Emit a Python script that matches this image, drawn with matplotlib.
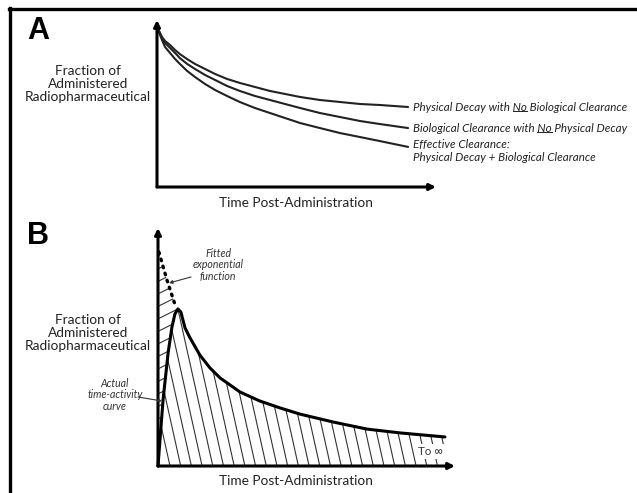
import matplotlib
matplotlib.use("Agg")
import matplotlib.pyplot as plt
import numpy as np
from matplotlib.lines import Line2D
from matplotlib.patches import Polygon, FancyArrowPatch
from matplotlib.collections import LineCollection
from matplotlib.transforms import IdentityTransform

plt.rcParams['font.family'] = ['Lato', 'DejaVu Sans']

W, H = 637, 493

# panel A: clearance curves, x = % of time axis, y = % of fraction axis
a_time = [0.4, 1.1, 1.8, 2.9, 4.7, 6.5, 8.2, 10.8, 13.6, 17.2, 20.8, 25.1, 29.7,
          35.1, 40.5, 45.9, 51.3, 58.4, 65.6, 72.8, 79.9, 90.0]
a_physical = [94.6, 92.2, 89.8, 87.4, 85.0, 82.0, 79.6, 76.6, 73.7, 70.7, 67.7, 64.7,
              62.3, 59.9, 57.5, 55.7, 53.9, 52.1, 50.9, 49.7, 49.1, 47.9]
a_biological = [94.6, 91.6, 89.2, 86.2, 83.2, 80.2, 77.2, 73.7, 70.7, 67.1, 64.1, 60.5,
                57.5, 54.5, 52.1, 49.7, 47.3, 44.3, 41.9, 39.5, 37.7, 35.3]
a_effective = [94.6, 91.0, 88.0, 83.8, 80.2, 76.6, 73.7, 69.5, 65.9, 61.7, 58.1, 54.5,
               50.9, 47.3, 44.3, 41.3, 38.3, 35.3, 32.3, 29.9, 27.5, 24.0]
a_labels = ["Physical Decay with No Biological Clearance",
            "Biological Clearance with No Physical Decay",
            "Effective Clearance:\nPhysical Decay + Biological Clearance"]

# panel B: measured time-activity curve and fitted exponential
b_time = [0, 1.7, 3.4, 4.7, 5.7, 6.7, 7.7, 9.1, 10.8, 14.1, 17.5, 20.9, 27.6,
          34.3, 41.1, 47.8, 58.9, 70.4, 81.5, 96.6]
b_activity = [0, 27.7, 47.5, 58.4, 63.9, 66.0, 64.7, 58.0, 53.8, 46.6, 41.2, 37.0,
              31.1, 27.3, 24.4, 21.8, 18.5, 15.5, 13.9, 12.2]
peak_idx = 5
fit_time = [0.3, 3.0, 6.1]
fit_activity = [89.9, 78.2, 66.4]

ylab = "Fraction of\nAdministered\nRadiopharmaceutical"
xlab = "Time Post-Administration"


def px_axes(fig, x0, y0, x1, y1):
    # axes box from pixel corners: (x0, y0) origin, (x1, y1) far ends of the arrows
    ax = fig.add_axes([x0 / W, 1 - y0 / H, (x1 - x0) / W, (y0 - y1) / H])
    ax.set_xlim(0, 100)
    ax.set_ylim(0, 100)
    ax.axis('off')
    return ax


def axis_arrows(ax):
    kw = dict(arrowstyle='-|>', lw=2.2, color='black', mutation_scale=9,
              shrinkA=0, shrinkB=0)
    ax.annotate('', xy=(100, 0), xytext=(0, 0), arrowprops=kw, annotation_clip=False)
    ax.annotate('', xy=(0, 100), xytext=(0, 0), arrowprops=kw, annotation_clip=False)


def hatch(ax, xs, ys, slope_px, step_px, color='#333333', lw=0.8):
    patch = Polygon(np.column_stack([xs, ys]), closed=True, fill=False, lw=0)
    ax.add_patch(patch)
    sx = ax.bbox.width / 100
    sy = ax.bbox.height / 100
    segs = []
    if abs(slope_px) > 1:
        dx = 100 * sy / slope_px / sx
        for x0 in np.arange(-50, 160, step_px / sx):
            segs.append([(x0, 0), (x0 + dx, 100)])
    else:
        dy = 100 * sx * slope_px / sy
        for y0 in np.arange(-80, 120, step_px / sy):
            segs.append([(0, y0), (100, y0 + dy)])
    lc = LineCollection(segs, colors=color, linewidths=lw)
    ax.add_collection(lc)
    lc.set_clip_path(patch)


fig = plt.figure(figsize=(W / 100, H / 100), dpi=100)

# outer frame (only top and left edges are in the picture)
fig.add_artist(Line2D([9 / W, 1], [1 - 8.5 / H, 1 - 8.5 / H], color='black', lw=2.4))
fig.add_artist(Line2D([10 / W, 10 / W], [0, 1 - 8 / H], color='black', lw=2.4))

# ---- panel A ----
axA = px_axes(fig, 157, 187, 436, 20)
axis_arrows(axA)
label_txt = []
for ys, lab in zip([a_physical, a_biological, a_effective], a_labels):
    axA.plot(a_time, ys, color='#222222', lw=1.5, solid_capstyle='round',
             solid_joinstyle='round')
    if '\n' in lab:
        t = axA.annotate(lab, xy=(a_time[-1], ys[-1]), xytext=(3.5, 5.5), textcoords='offset points',
                         fontsize=8.4, style='italic', va='top', ha='left', color='#222222',
                         linespacing=1.2, annotation_clip=False)
    else:
        t = axA.annotate(lab, xy=(a_time[-1], ys[-1]), xytext=(3.5, 0), textcoords='offset points',
                         fontsize=8.4, style='italic', va='center', ha='left', color='#222222',
                         annotation_clip=False)
    label_txt.append(t)

fig.text(27 / W, 1 - 31 / H, "A", fontsize=22, fontweight='bold', family='Liberation Sans',
         va='center', ha='left')
fig.text(88 / W, 1 - 84 / H, ylab, fontsize=9.8, ha='center', va='center',
         linespacing=1.12, color='#222222')
fig.text(296 / W, 1 - 203 / H, xlab, fontsize=9.8, ha='center', va='center', color='#222222')

# ---- panel B ----
axB = px_axes(fig, 158, 466, 455, 228)
axis_arrows(axB)

# area under the curve, steep "\" hatch
main_x = list(b_time) + [b_time[-1]]
main_y = list(b_activity) + [0]
hatch(axB, main_x, main_y, -4.5, 10.7)

# area between y axis and the back-extrapolated fit, shallow "/" hatch
left_x = [0] + list(fit_time) + list(b_time[:peak_idx + 1][::-1])
left_y = [fit_activity[0]] + list(fit_activity) + list(b_activity[:peak_idx + 1][::-1])
hatch(axB, left_x, left_y, 0.5, 12.5)

axB.plot(b_time, b_activity, color='black', lw=2.2, solid_capstyle='round',
         solid_joinstyle='round', clip_on=False)
axB.plot(fit_time, fit_activity, color='black', lw=2.4, linestyle=(0, (0.5, 1.7)),
         dash_capstyle='round', clip_on=False)

axB.text(b_time[-1] - 0.5, 6.0, "To ∞", fontsize=8.4, ha='right', va='center', color='#333333',
         bbox=dict(boxstyle='square,pad=0.15', fc='white', ec='none'))

fig.text(27 / W, 1 - 236 / H, "B", fontsize=22, fontweight='bold', family='Liberation Sans',
         va='center', ha='left')
fig.text(88 / W, 1 - 333 / H, ylab, fontsize=9.8, ha='center', va='center',
         linespacing=1.12, color='#222222')
fig.text(296 / W, 1 - 481 / H, xlab, fontsize=9.8, ha='center', va='center', color='#222222')

fig.text(218 / W, 1 - 265 / H, "Fitted\nexponential\nfunction", fontsize=7.6, style='italic',
         ha='center', va='center', linespacing=1.05, color='#333333')
fig.text(115 / W, 1 - 395 / H, "Actual\ntime-activity\ncurve", fontsize=7.6, style='italic',
         ha='center', va='center', linespacing=1.05, color='#333333')

arrow_kw = dict(arrowstyle='-|>', lw=0.8, color='#333333', mutation_scale=5,
                shrinkA=0, shrinkB=0, transform=fig.transFigure)
fig.add_artist(FancyArrowPatch((191 / W, 1 - 277 / H), (169 / W, 1 - 283 / H), **arrow_kw))
fig.add_artist(FancyArrowPatch((138 / W, 1 - 397 / H), (162 / W, 1 - 401 / H), **arrow_kw))

# underline the "No" in the first two labels
renderer = fig.canvas.get_renderer()
for t in label_txt[:2]:
    s = t.get_text()
    i = s.index("No ")
    bb = t.get_window_extent(renderer)
    tmp = fig.text(0, 0, s[:i + 2], fontproperties=t.get_fontproperties())
    w_end = tmp.get_window_extent(renderer).width
    tmp.set_text("No")
    w_no = tmp.get_window_extent(renderer).width
    tmp.remove()
    yline = bb.y0 + 1.8
    fig.add_artist(Line2D([bb.x0 + w_end - w_no, bb.x0 + w_end], [yline, yline],
                          transform=IdentityTransform(), color='#222222', lw=0.7))

fig.savefig('out.png', dpi=100)
